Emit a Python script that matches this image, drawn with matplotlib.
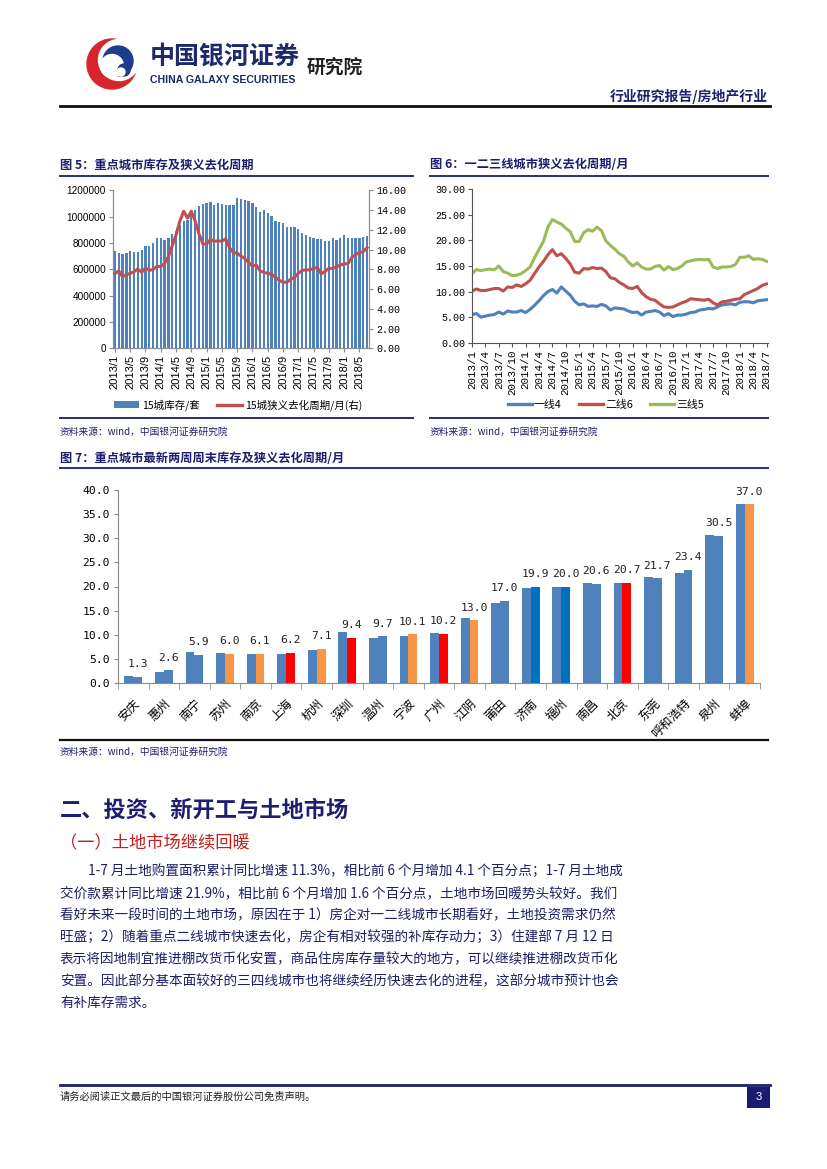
import matplotlib
matplotlib.use('Agg')
import matplotlib.pyplot as plt
from matplotlib.patches import Rectangle, Circle, Patch
from matplotlib.lines import Line2D
import numpy as np

plt.rcParams['font.family'] = ['Noto Sans CJK SC', 'DejaVu Sans']
plt.rcParams['axes.unicode_minus'] = False

# ---------------- data ----------------
months = [f'{y}/{m}' for y in range(2013, 2019) for m in range(1, 13)][:67]

inventory_15 = [738000, 725000, 715000, 728000, 740000, 735000, 735000, 745000, 775000, 775000, 800000, 838000,
                838000, 820000, 838000, 870000, 895000, 935000, 965000, 978000, 1020000, 1055000, 1080000, 1100000,
                1108000, 1112000, 1090000, 1102000, 1096000, 1092000, 1092000, 1093000, 1140000, 1132000, 1128000, 1122000,
                1105000, 1075000, 1040000, 1053000, 1028000, 1003000, 970000, 958000, 950000, 922000, 925000, 920000,
                908000, 880000, 862000, 848000, 840000, 830000, 830000, 815000, 815000, 838000, 822000, 835000,
                858000, 840000, 842000, 835000, 840000, 848000, 853000]

cycle_15 = [7.55, 7.85, 7.25, 7.45, 7.6, 7.75, 8.05, 7.7, 8.15, 7.9, 8.0, 8.3,
            8.3, 8.6, 9.3, 10.4, 11.5, 12.9, 13.9, 13.2, 13.9, 12.9, 11.6, 10.6,
            10.55, 11.05, 10.85, 10.9, 10.85, 11.1, 10.2, 9.7, 9.65, 9.35, 9.1, 8.7,
            8.35, 8.45, 7.85, 7.7, 7.6, 7.5, 7.2, 6.9, 6.7, 6.7, 7.0, 7.2,
            7.6, 7.9, 7.95, 7.95, 8.1, 8.2, 7.55, 7.8, 8.1, 8.1, 8.25, 8.45,
            8.55, 8.6, 9.2, 9.5, 9.7, 9.8, 10.2]

tier1 = [5.5, 5.7, 5.0, 5.2, 5.4, 5.5, 6.0, 5.6, 6.2, 6.0, 6.0, 6.3,
         5.9, 6.5, 7.3, 8.2, 9.2, 10.0, 10.4, 9.7, 10.9, 10.1, 9.3, 8.1,
         7.4, 7.6, 7.1, 7.2, 7.1, 7.5, 7.2, 6.4, 6.8, 6.7, 6.6, 6.2,
         5.9, 6.0, 5.4, 6.0, 6.1, 6.3, 6.0, 5.3, 5.7, 5.1, 5.4, 5.4,
         5.6, 5.9, 6.0, 6.4, 6.5, 6.7, 6.6, 7.0, 7.4, 7.5, 7.6, 7.4,
         7.9, 8.0, 8.0, 7.8, 8.2, 8.3, 8.4]
tier2 = [10.1, 10.5, 10.2, 10.2, 10.4, 10.6, 10.6, 10.1, 10.9, 10.8, 11.3, 11.0,
         11.5, 12.2, 13.5, 14.8, 15.9, 17.2, 18.2, 17.0, 17.4, 16.5, 15.4, 13.8,
         13.6, 14.5, 14.4, 14.7, 14.5, 14.6, 13.9, 12.7, 12.5, 11.8, 11.3, 10.7,
         10.6, 11.0, 9.8, 9.0, 8.5, 8.3, 7.6, 7.0, 6.9, 7.0, 7.4, 7.8,
         8.1, 8.6, 8.5, 8.4, 8.3, 8.5, 7.8, 7.4, 8.0, 8.1, 8.3, 8.5,
         8.6, 9.4, 9.8, 10.2, 10.6, 11.2, 11.5]
tier3 = [13.5, 14.3, 14.1, 14.3, 14.4, 14.25, 15.0, 13.9, 13.6, 13.1, 13.2, 13.5,
         14.1, 14.8, 16.6, 18.2, 19.8, 22.6, 24.1, 23.6, 23.2, 22.4, 21.7, 19.8,
         19.8, 21.5, 22.1, 21.8, 22.6, 21.9, 19.9, 19.0, 18.3, 17.4, 16.9, 15.8,
         15.0, 15.6, 14.8, 14.4, 14.4, 14.9, 15.1, 14.2, 14.9, 14.3, 14.5, 15.0,
         15.8, 16.0, 16.2, 16.3, 16.2, 16.3, 14.8, 14.5, 14.8, 14.8, 14.9, 15.3,
         16.7, 16.7, 17.0, 16.3, 16.4, 16.3, 15.9]

cities = ['安庆', '惠州', '南宁', '苏州', '南京', '上海', '杭州', '深圳', '温州', '宁波', '广州',
          '江阴', '莆田', '济南', '福州', '南昌', '北京', '东莞', '呼和浩特', '泉州', '蚌埠']
prev_week = [1.5, 2.3, 6.5, 6.3, 6.0, 6.0, 6.8, 10.5, 9.4, 9.8, 10.3,
             13.5, 16.6, 19.7, 20.0, 20.8, 20.8, 21.9, 22.7, 30.6, 37.0]
latest_week = [1.3, 2.6, 5.9, 6.0, 6.1, 6.2, 7.1, 9.4, 9.7, 10.1, 10.2,
               13.0, 17.0, 19.9, 20.0, 20.6, 20.7, 21.7, 23.4, 30.5, 37.0]
latest_group = ['b', 'b', 'b', 'o', 'o', 'r', 'o', 'r', 'b', 'o', 'r',
                'o', 'b', 'd', 'd', 'b', 'r', 'b', 'b', 'b', 'o']

# ---------------- page helpers ----------------
W, H = 827, 1169
fig = plt.figure(figsize=(8.27, 11.69), dpi=100)
fig.patch.set_facecolor('white')

def fx(x): return x / W
def fy(y): return 1 - y / H

def ftext(x, y, s, **kw):
    kw.setdefault('va', 'center')
    return fig.text(fx(x), fy(y), s, **kw)

def hline(x0, x1, y, color, lw):
    fig.add_artist(Line2D([fx(x0), fx(x1)], [fy(y), fy(y)], color=color, lw=lw,
                          transform=fig.transFigure))

def axes_px(l, t, r, b):
    return fig.add_axes([fx(l), fy(b), (r - l) / W, (b - t) / H])

NAVY = '#1E1E6E'
BLUE = '#4F81BD'
RED = '#C0504D'
GREEN = '#9BBB59'
GRAY = '#8C8C8C'
group_colors = {'b': '#4F81BD', 'o': '#F79646', 'r': '#FF0000', 'd': '#0070C0'}

# ---------------- header ----------------
axl = axes_px(80, 35, 145, 92)
axl.set_xlim(80, 145)
axl.set_ylim(-92, -35)
axl.set_aspect('equal')
axl.axis('off')
axl.add_patch(Circle((112, -64), 25, color='#D7262B'))
axl.add_patch(Circle((119, -60), 20.5, color='white'))
axl.add_patch(Circle((118, -61), 15, color='#1F3C8C'))
axl.add_patch(Circle((112, -66), 11.5, color='white'))
axl.add_patch(Circle((124, -70), 6, color='#1F3C8C'))
axl.add_patch(Circle((121, -72), 4, color='white'))

ftext(150, 57, '中国银河证券', fontsize=18, fontweight='bold', color='#1C2A6B', ha='left')
ftext(150, 80, 'CHINA GALAXY SECURITIES', fontsize=7.6, fontweight='bold', color='#1C2A6B', ha='left',
      family=['Liberation Sans Narrow', 'Liberation Sans', 'DejaVu Sans'])
ftext(307, 67, '研究院', fontsize=13.5, fontweight='bold', color='#222222', ha='left')
ftext(768, 96, '行业研究报告/房地产行业', fontsize=10, fontweight='bold', color=NAVY, ha='right')
hline(60, 770, 106, '#111111', 2.0)

# ---------------- titles ----------------
ftext(60, 165, '图 5：重点城市库存及狭义去化周期', fontsize=8.8, fontweight='bold', color=NAVY, ha='left')
hline(60, 413, 176, '#2B2B8C', 1.4)
ftext(430, 165, '图 6：一二三线城市狭义去化周期/月', fontsize=8.8, fontweight='bold', color=NAVY, ha='left')
hline(430, 768, 176, '#2B2B8C', 1.4)

# ---------------- chart 5 ----------------
ax5 = axes_px(113, 190.5, 369, 348.3)
x5 = np.arange(len(inventory_15))
ax5.bar(x5, inventory_15, width=0.6, color=BLUE, zorder=2)
ax5.set_xlim(-0.5, len(inventory_15) - 0.5)
ax5.set_ylim(0, 1200000)
ax5.set_yticks(range(0, 1200001, 200000))
ax5.set_yticklabels([str(v) for v in range(0, 1200001, 200000)],
                    family=['Liberation Sans'], fontsize=7.2)
tick_idx5 = list(range(0, len(months), 4))
ax5.set_xticks(tick_idx5)
ax5.set_xticklabels([months[i] for i in tick_idx5], rotation=90,
                    family=['Liberation Sans'], fontsize=8)
ax5.spines['top'].set_visible(False)
for s in ['left', 'right', 'bottom']:
    ax5.spines[s].set_color(GRAY)
    ax5.spines[s].set_linewidth(0.8)
ax5.tick_params(axis='both', direction='out', length=3, color=GRAY, pad=2)

ax5r = ax5.twinx()
ax5r.plot(x5, cycle_15, color=RED, lw=2.2, zorder=3)
ax5r.set_ylim(0, 16)
ax5r.set_yticks(range(0, 17, 2))
ax5r.set_yticklabels([f'{v:.2f}' for v in range(0, 17, 2)],
                     family=['Liberation Mono'], fontsize=7.2)
ax5r.spines['top'].set_visible(False)
for s in ['left', 'right', 'bottom']:
    ax5r.spines[s].set_color(GRAY)
    ax5r.spines[s].set_linewidth(0.8)
ax5r.tick_params(axis='y', direction='out', length=3, color=GRAY, pad=2)

h5 = [Patch(facecolor=BLUE, edgecolor='none'), Line2D([0], [0], color=RED, lw=2.4)]
fig.legend(h5, ['15城库存/套', '15城狭义去化周期/月(右)'], loc='center',
           bbox_to_anchor=(fx(238), fy(405)), bbox_transform=fig.transFigure, ncol=2,
           frameon=False, fontsize=7.6, handlelength=2.4, handleheight=0.6,
           columnspacing=1.6, handletextpad=0.3)

# ---------------- chart 6 ----------------
ax6 = axes_px(472, 189.3, 768, 342.7)
x6 = np.arange(len(tier1))
ax6.plot(x6, tier1, color=BLUE, lw=2.2)
ax6.plot(x6, tier2, color=RED, lw=2.2)
ax6.plot(x6, tier3, color=GREEN, lw=2.2)
ax6.set_xlim(0, len(tier1) - 1 + 0.3)
ax6.set_ylim(0, 30)
ax6.set_yticks(range(0, 31, 5))
ax6.set_yticklabels([f'{v:.2f}' for v in range(0, 31, 5)], family=['Liberation Mono'], fontsize=7.2)
tick_idx6 = list(range(0, len(months), 3))
ax6.set_xticks(tick_idx6)
ax6.set_xticklabels([months[i] for i in tick_idx6], rotation=90, family=['Liberation Mono'], fontsize=7.8)
ax6.spines['top'].set_visible(False)
ax6.spines['right'].set_visible(False)
for s in ['left', 'bottom']:
    ax6.spines[s].set_color('#555555')
    ax6.spines[s].set_linewidth(0.8)
ax6.tick_params(axis='both', direction='out', length=3, color='#555555', pad=2)

h6 = [Line2D([0], [0], color=c, lw=2.4) for c in (BLUE, RED, GREEN)]
fig.legend(h6, ['一线4', '二线6', '三线5'], loc='center',
           bbox_to_anchor=(fx(606), fy(405)), bbox_transform=fig.transFigure, ncol=3,
           frameon=False, fontsize=7.8, handlelength=2.2, columnspacing=1.6, handletextpad=0.2)

# separators + sources
hline(60, 413, 418, '#2B2B6B', 1.4)
hline(430, 768, 418, '#2B2B6B', 1.4)
ftext(60, 432, '资料来源：wind，中国银河证券研究院', fontsize=7, color=NAVY, ha='left', style='italic')
ftext(430, 432, '资料来源：wind，中国银河证券研究院', fontsize=7, color=NAVY, ha='left', style='italic')

# ---------------- chart 7 ----------------
ftext(60, 458, '图 7：重点城市最新两周周末库存及狭义去化周期/月', fontsize=8.8, fontweight='bold',
      color=NAVY, ha='left')
hline(60, 768, 468, '#2B2B8C', 1.4)

ax7 = axes_px(118, 490, 760, 683)
x7 = np.arange(len(cities))
bw = 0.29
ax7.bar(x7 - bw / 2, prev_week, width=bw, color=BLUE, zorder=2)
ax7.bar(x7 + bw / 2, latest_week, width=bw, color=[group_colors[g] for g in latest_group], zorder=2)
for xi, v in zip(x7, latest_week):
    ax7.annotate(f'{v:.1f}', (xi + bw / 2, v), xytext=(0, 5.5), textcoords='offset points',
                 ha='center', va='bottom', fontsize=8.2, family=['DejaVu Sans Mono'], color='#222222')
ax7.set_xlim(-0.5, len(cities) - 0.5)
ax7.set_ylim(0, 40)
ax7.set_yticks(range(0, 41, 5))
ax7.set_yticklabels([f'{v:.1f}' for v in range(0, 41, 5)], family=['DejaVu Sans Mono'], fontsize=8.2)
ax7.set_xticks(x7)
ax7.set_xticklabels(cities, rotation=45, ha='right', va='top', rotation_mode='anchor', fontsize=8.8)
ax7.set_xticks(np.arange(-0.5, len(cities), 1.0), minor=True)
ax7.tick_params(axis='x', which='major', length=0, pad=10)
ax7.tick_params(axis='x', which='minor', length=4, direction='out', color=GRAY)
ax7.tick_params(axis='y', direction='out', length=3, color=GRAY, pad=3)
ax7.spines['top'].set_visible(False)
ax7.spines['right'].set_visible(False)
for s in ['left', 'bottom']:
    ax7.spines[s].set_color(GRAY)
    ax7.spines[s].set_linewidth(0.8)

hline(60, 768, 740, '#111111', 1.6)
ftext(60, 752, '资料来源：wind，中国银河证券研究院', fontsize=7, color=NAVY, ha='left', style='italic')

# ---------------- body text ----------------
ftext(60, 810, '二、投资、新开工与土地市场', fontsize=16, fontweight='bold', color=NAVY, ha='left')
ftext(60, 843, '（一）土地市场继续回暖', fontsize=12.4, color='#C41E1E', ha='left')

para = [
    (88, '1-7 月土地购置面积累计同比增速 11.3%，相比前 6 个月增加 4.1 个百分点；1-7 月土地成'),
    (60, '交价款累计同比增速 21.9%，相比前 6 个月增加 1.6 个百分点，土地市场回暖势头较好。我们'),
    (60, '看好未来一段时间的土地市场，原因在于 1）房企对一二线城市长期看好，土地投资需求仍然'),
    (60, '旺盛；2）随着重点二线城市快速去化，房企有相对较强的补库存动力；3）住建部 7 月 12 日'),
    (60, '表示将因地制宜推进棚改货币化安置，商品住房库存量较大的地方，可以继续推进棚改货币化'),
    (60, '安置。因此部分基本面较好的三四线城市也将继续经历快速去化的进程，这部分城市预计也会'),
    (60, '有补库存需求。'),
]
for i, (x0, line) in enumerate(para):
    ftext(x0, 871 + 22 * i, line, fontsize=9.8, color='#1E1E66', ha='left')

# ---------------- footer ----------------
hline(60, 770, 1085, NAVY, 2.0)
ftext(60, 1097, '请务必阅读正文最后的中国银河证券股份公司免责声明。', fontsize=7.4, color='#222222', ha='left')
fig.add_artist(Rectangle((fx(747), fy(1108)), 23 / W, 21 / H, transform=fig.transFigure,
                         facecolor='#1A1A6E', edgecolor='none'))
ftext(758.5, 1097.5, '3', fontsize=8, color='white', ha='center', family=['Liberation Sans'])

fig.savefig('out.png', dpi=100)
